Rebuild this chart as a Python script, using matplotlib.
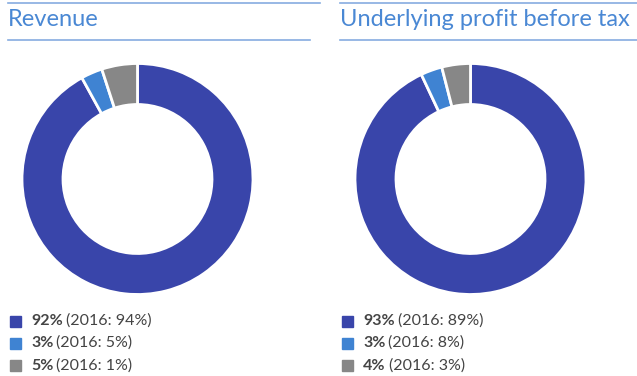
import matplotlib
matplotlib.use("Agg")
import matplotlib.pyplot as plt
from matplotlib.lines import Line2D

plt.rcParams['font.family'] = ['Lato', 'DejaVu Sans']

# panel data
titles = ["Revenue", "Underlying profit before tax"]
shares_2017 = [[92, 3, 5], [93, 3, 4]]
shares_2016 = [[94, 5, 1], [89, 8, 3]]
colors = ["#3945aa", "#3f83d2", "#878787"]

title_color = "#4a88d4"
rule_color = "#86ace0"
text_color = "#444444"

W, H = 637, 376
fig = plt.figure(figsize=(W / 100, H / 100), dpi=100)


def fx(px):
    return px / W


def fy(py):
    return 1 - py / H


# left edge of each panel, and donut centre
panel_x = [8, 340]
centre_x = [137.5, 470.5]
centre_y = 179
r_out = 115.5
ring = 41

for i in range(2):
    x0 = panel_x[i]
    # thin rule on top and under the title
    fig.add_artist(Line2D([fx(x0), fx(x0 + 312 if i == 0 else W)], [fy(3.3), fy(3.3)],
                          color=rule_color, lw=1.2, transform=fig.transFigure))
    fig.add_artist(Line2D([fx(x0), fx(x0 + 302 if i == 0 else W)], [fy(39.5), fy(39.5)],
                          color=rule_color, lw=1.2, transform=fig.transFigure))
    fig.text(fx(x0), fy(19), titles[i], color=title_color, fontsize=17,
             va='center', ha='left')

    ax = fig.add_axes([fx(centre_x[i] - r_out), fy(centre_y + r_out),
                       2 * r_out / W, 2 * r_out / H])
    ax.pie(shares_2017[i], colors=colors, startangle=90, counterclock=False,
           radius=1, wedgeprops=dict(width=ring / r_out, edgecolor='white', linewidth=2))
    ax.set_xlim(-1, 1)
    ax.set_ylim(-1, 1)
    ax.axis('off')

fig.canvas.draw()
renderer = fig.canvas.get_renderer()

legend_y = [321, 343, 365.5]
for i in range(2):
    x0 = panel_x[i] + 2
    for j in range(3):
        fig.add_artist(plt.Rectangle((fx(x0), fy(legend_y[j] + 5.5)), 11 / W, 11 / H,
                                     color=colors[j], transform=fig.transFigure))
        b = fig.text(fx(x0 + 21), fy(legend_y[j]), f"{shares_2017[i][j]}%",
                     color=text_color, fontsize=11.5, fontweight='bold', va='center')
        ext = b.get_window_extent(renderer)
        fig.text(ext.x1 / W + 3 / W, fy(legend_y[j]), f"(2016: {shares_2016[i][j]}%)",
                 color=text_color, fontsize=11.5, va='center')

fig.savefig("out.png", dpi=100)
